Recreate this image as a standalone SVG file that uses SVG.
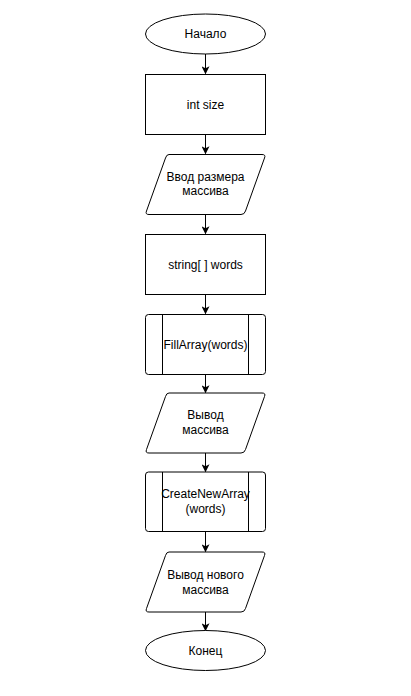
<svg xmlns="http://www.w3.org/2000/svg" width="411" height="696" viewBox="0 0 411 696">
<defs>
<style>
.s{fill:#fff;stroke:#000;stroke-width:1}
.t{font-family:"Liberation Sans",Arial,sans-serif;font-size:12px;fill:#000;text-anchor:middle}
.c{fill:none;stroke:#000;stroke-width:1}
</style>
<marker id="a" viewBox="0 0 10 10" refX="9" refY="5" markerWidth="8" markerHeight="8" markerUnits="userSpaceOnUse" orient="auto">
<path d="M0,0 L10,5 L0,10 L2.5,5 Z" fill="#000"/>
</marker>
</defs>
<rect width="411" height="696" fill="#fff"/>
<g id="connectors">
<line class="c" x1="205.5" y1="54" x2="205.5" y2="73.5" marker-end="url(#a)"/>
<line class="c" x1="205.5" y1="134.5" x2="205.5" y2="153.5" marker-end="url(#a)"/>
<line class="c" x1="205.5" y1="214.5" x2="205.5" y2="233.5" marker-end="url(#a)"/>
<line class="c" x1="205.5" y1="294.5" x2="205.5" y2="313.5" marker-end="url(#a)"/>
<line class="c" x1="205.5" y1="374.5" x2="205.5" y2="392.5" marker-end="url(#a)"/>
<line class="c" x1="205.5" y1="452.5" x2="205.5" y2="471.5" marker-end="url(#a)"/>
<line class="c" x1="205.5" y1="531.5" x2="205.5" y2="551.5" marker-end="url(#a)"/>
<line class="c" x1="205.5" y1="611.5" x2="205.5" y2="630.5" marker-end="url(#a)"/>
</g>
<g id="start">
<ellipse class="s" cx="205.5" cy="34" rx="60" ry="20"/>
<text class="t" x="205.5" y="38">Начало</text>
</g>
<g id="int_size">
<rect class="s" x="145.5" y="74.5" width="120" height="60"/>
<text class="t" x="205.5" y="108.5">int size</text>
</g>
<g id="input_size">
<path class="s" d="M169,154.5 L262,154.5 Q266,154.5 264.5,158 L245.5,211 Q244.5,214.5 241,214.5 L149,214.5 Q145,214.5 146.5,211 L165.5,158 Q166.5,154.5 169,154.5 Z"/>
<text class="t" x="205.5" y="181">Ввод размера</text>
<text class="t" x="205.5" y="195">массива</text>
</g>
<g id="words_decl">
<rect class="s" x="145.5" y="234.5" width="120" height="60"/>
<text class="t" x="205.5" y="268.5">string[ ] words</text>
</g>
<g id="fill_array">
<rect class="s" x="145.5" y="314.5" width="120" height="60" rx="3"/>
<line class="c" x1="162.5" y1="314.5" x2="162.5" y2="374.5"/>
<line class="c" x1="248.5" y1="314.5" x2="248.5" y2="374.5"/>
<text class="t" x="205.5" y="348.5">FillArray(words)</text>
</g>
<g id="output_array">
<path class="s" d="M169,393 L262,393 Q266,393 264.5,396.5 L245.5,449.5 Q244.5,453 241,453 L149,453 Q145,453 146.5,449.5 L165.5,396.5 Q166.5,393 169,393 Z"/>
<text class="t" x="205.5" y="419">Вывод</text>
<text class="t" x="205.5" y="434">массива</text>
</g>
<g id="create_new_array">
<rect class="s" x="145.5" y="472" width="120" height="59.5" rx="3"/>
<line class="c" x1="162.5" y1="472" x2="162.5" y2="531.5"/>
<line class="c" x1="248.5" y1="472" x2="248.5" y2="531.5"/>
<text class="t" x="205.5" y="498">CreateNewArray</text>
<text class="t" x="205.5" y="513">(words)</text>
</g>
<g id="output_new_array">
<path class="s" d="M169,552 L262,552 Q266,552 264.5,555.5 L245.5,608.5 Q244.5,612 241,612 L149,612 Q145,612 146.5,608.5 L165.5,555.5 Q166.5,552 169,552 Z"/>
<text class="t" x="205.5" y="579">Вывод нового</text>
<text class="t" x="205.5" y="594">массива</text>
</g>
<g id="end">
<ellipse class="s" cx="205.5" cy="650.5" rx="60" ry="20"/>
<text class="t" x="205.5" y="654.5">Конец</text>
</g>
</svg>
